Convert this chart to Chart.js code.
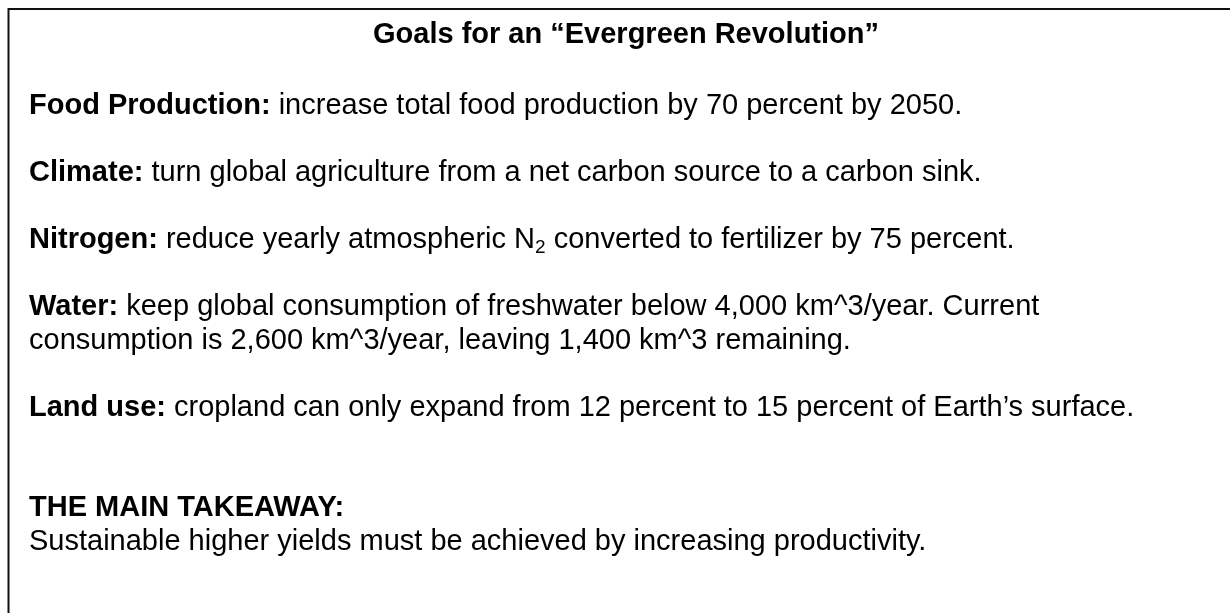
<!DOCTYPE html>
<html>
<head>
<meta charset="utf-8">
<script src="https://cdn.jsdelivr.net/npm/chart.js@4.4.1/dist/chart.umd.min.js"></script>
<style>
  html, body { margin: 0; padding: 0; background: #fff; }
  #wrap { width: 1230px; height: 613px; }
</style>
</head>
<body>
<div id="wrap"><canvas id="goalsBox" width="1230" height="613"></canvas></div>
<script>
const boxTitle = "Goals for an \u201cEvergreen Revolution\u201d";
const goalLabels = ["Food Production:", "Climate:", "Nitrogen:", "Water:", "Land use:"];
// "_2" marks a subscript 2
const goalLines = [
  ["increase total food production by 70 percent by 2050."],
  ["turn global agriculture from a net carbon source to a carbon sink."],
  ["reduce yearly atmospheric N_2 converted to fertilizer by 75 percent."],
  ["keep global consumption of freshwater below 4,000 km^3/year. Current",
   "consumption is 2,600 km^3/year, leaving 1,400 km^3 remaining."],
  ["cropland can only expand from 12 percent to 15 percent of Earth\u2019s surface."]
];
const takeawayLabel = "THE MAIN TAKEAWAY:";
const takeawayText = "Sustainable higher yields must be achieved by increasing productivity.";

const fontFamily = "'Liberation Sans', Arial, sans-serif";
const fontSize = 29;
const lineH = 33.5;

// draws one line, handles the N_2 subscript
function drawRich(ctx, str, x, y) {
  const parts = str.split("_2");
  parts.forEach((p, i) => {
    ctx.fillText(p, x, y);
    x += ctx.measureText(p).width;
    if (i < parts.length - 1) {
      const f = ctx.font;
      ctx.font = `${Math.round(fontSize * 0.65)}px ${fontFamily}`;
      ctx.fillText("2", x, y + 5);
      x += ctx.measureText("2").width;
      ctx.font = f;
    }
  });
  return x;
}

const textBox = {
  id: "textBox",
  afterDraw(chart) {
    const { ctx } = chart;
    ctx.save();
    // frame: only the left and top edges are visible
    ctx.strokeStyle = "#111";
    ctx.lineWidth = 2;
    ctx.beginPath();
    ctx.moveTo(8.5, chart.height);
    ctx.lineTo(8.5, 9);
    ctx.lineTo(chart.width, 9);
    ctx.stroke();

    ctx.fillStyle = "#000";
    ctx.textBaseline = "alphabetic";
    ctx.textAlign = "left";
    const left = 29;
    let y = 114;

    goalLabels.forEach((label, i) => {
      ctx.font = `bold ${fontSize}px ${fontFamily}`;
      ctx.fillText(label + " ", left, y);
      const indent = left + ctx.measureText(label + " ").width;
      ctx.font = `${fontSize}px ${fontFamily}`;
      goalLines[i].forEach((ln, j) => {
        drawRich(ctx, ln, j === 0 ? indent : left, y);
        if (j < goalLines[i].length - 1) y += lineH;
      });
      y += lineH * 2;
    });

    y += lineH;
    ctx.font = `bold ${fontSize}px ${fontFamily}`;
    ctx.fillText(takeawayLabel, left, y);
    ctx.font = `${fontSize}px ${fontFamily}`;
    ctx.fillText(takeawayText, left, y + lineH);
    ctx.restore();
  }
};

new Chart(document.getElementById("goalsBox"), {
  type: "bar",
  data: { labels: [], datasets: [] },
  options: {
    responsive: false,
    animation: false,
    layout: { padding: { left: 22, top: 0, right: 0, bottom: 0 } },
    scales: { x: { display: false }, y: { display: false } },
    plugins: {
      legend: { display: false },
      tooltip: { enabled: false },
      title: {
        display: true,
        text: boxTitle,
        color: "#000",
        font: { family: fontFamily, size: fontSize, weight: "bold", lineHeight: 1.2 },
        padding: { top: 18, bottom: 0 }
      }
    }
  },
  plugins: [textBox]
});
</script>
</body>
</html>
